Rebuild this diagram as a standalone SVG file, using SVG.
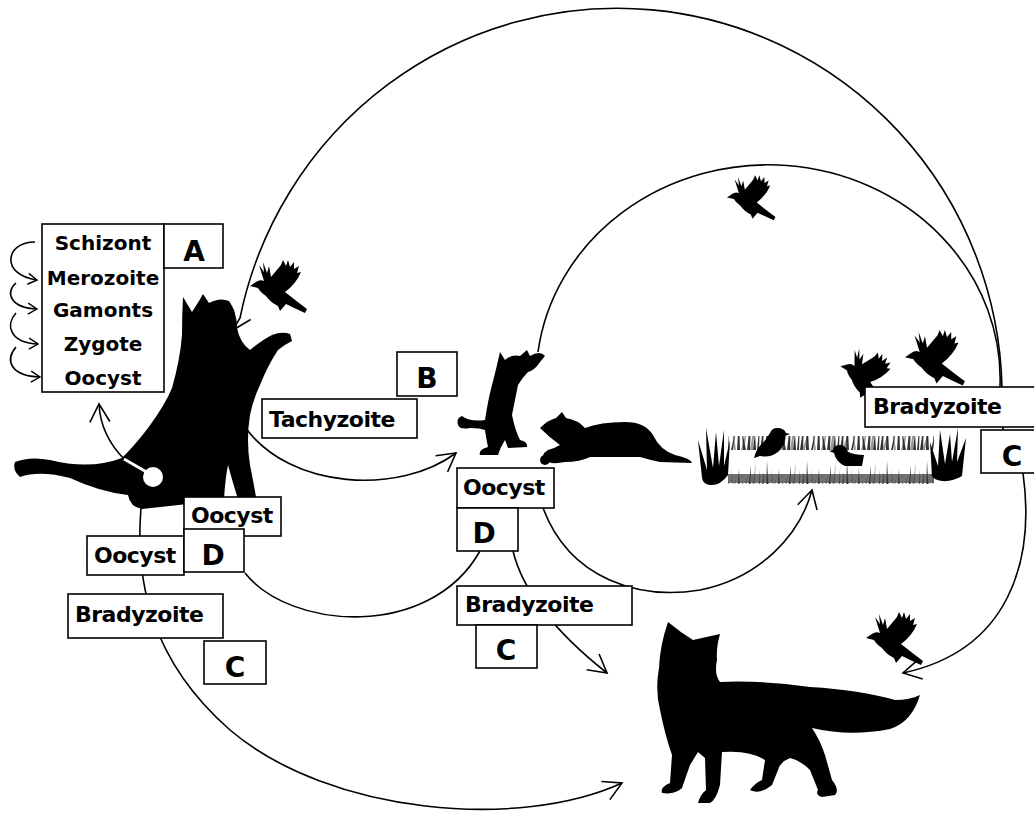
<svg xmlns="http://www.w3.org/2000/svg" width="1034" height="818" viewBox="0 0 1034 818">
  <defs>
    <style>
      .line { fill: none; stroke: #000; stroke-width: 1.6; }
      .box { fill: #fff; stroke: #000; stroke-width: 1.6; }
      .lbl { font-family: "DejaVu Sans", "Liberation Sans", sans-serif; font-weight: bold; font-size: 22px; letter-spacing: -0.5px; fill: #000; }
      .lst { font-family: "DejaVu Sans", "Liberation Sans", sans-serif; font-weight: bold; font-size: 20px; fill: #000; text-anchor: middle; }
      .big { font-family: "DejaVu Sans", "Liberation Sans", sans-serif; font-weight: bold; font-size: 28px; fill: #000; text-anchor: middle; }
      .sil { fill: #000; }
    </style>
    <marker id="ah" viewBox="-20 -12 22 24" refX="0" refY="0" markerWidth="22" markerHeight="24" markerUnits="userSpaceOnUse" orient="auto">
      <path d="M-18,-10 L0,0 L-18,10" fill="none" stroke="#000" stroke-width="1.6"/>
    </marker>
    <marker id="ahs" viewBox="-12 -8 14 16" refX="0" refY="0" markerWidth="14" markerHeight="16" markerUnits="userSpaceOnUse" orient="auto">
      <path d="M-9,-5.5 L0,0 L-9,5.5" fill="none" stroke="#000" stroke-width="1.4"/>
    </marker>
    <!-- flying bird, facing left, wings raised -->
    <symbol id="flyer" overflow="visible">
      <path d="M0 24 L6 20 Q10 17 14 19 L9 3 L14 10 L13 0 L17 11 L19 4 L21 15 Q26 9 31 3 L33 -2 L36 4 L38 -2 L40 5 L44 0 L44 7 L49 4 L47 11 L51 10 Q46 22 35 30 Q45 38 57 47 L55 51 Q44 46 36 42 L30 49 L28 44 Q20 40 16 34 Q10 30 8 26 Z" fill="#000"/>
    </symbol>
    <pattern id="grass" width="40" height="50" patternUnits="userSpaceOnUse">
      <path d="M2 50 L10 28 L5 50 Z M14 50 L11 18 L16 50 Z M21 50 L28 24 L24 50 Z M30 50 L36 12 L33 50 Z" fill="#999"/>
      <path d="M0 50 L4 22 L3 50 Z M6 50 L7 10 L9 50 Z M11 50 L16 28 L13 50 Z M17 50 L19 18 L20 50 Z M23 50 L22 30 L26 50 Z M27 50 L31 15 L30 50 Z M33 50 L35 32 L36 50 Z M37 50 L40 20 L39 50 Z" fill="#333"/>
    </pattern>
  </defs>

  <rect x="0" y="0" width="1034" height="818" fill="#fff"/>

  <!-- connectors -->
  <g id="connectors">
    <!-- stage cycle inside the definitive host -->
    <path class="line" marker-end="url(#ahs)" d="M35 242 C5 242 0 275 37 280"/>
    <path class="line" marker-end="url(#ahs)" d="M16 283 C5 292 10 308 37 309"/>
    <path class="line" marker-end="url(#ahs)" d="M16 313 C5 325 10 343 38 344"/>
    <path class="line" marker-end="url(#ahs)" d="M16 347 C5 360 10 376 40 377"/>
    <!-- gut to stage list -->
    <path class="line" marker-end="url(#ah)" d="M125 460 C110 445 100 425 99 404"/>
    <!-- outer arc: birds back to the adult cat -->
    <path class="line" marker-end="url(#ah)" d="M1003 431 L1002 388 A385 388 0 0 0 240 318 L233 330"/>
    <!-- inner arc: birds back to the kitten -->
    <path class="line" d="M1003 431 L1000 387 A232 214 0 0 0 538 352"/>
    <!-- tachyzoite to kittens -->
    <path class="line" marker-end="url(#ah)" d="M245 427 C290 490 400 495 456 453"/>
    <!-- cat faeces to fox -->
    <path class="line" marker-end="url(#ah)" d="M141 508 C135 580 150 660 230 730 C330 815 520 830 622 783"/>
    <!-- oocyst link between the cats -->
    <path class="line" d="M245 573 C290 630 430 640 480 551"/>
    <!-- kitten oocyst to fox -->
    <path class="line" marker-end="url(#ah)" d="M513 551 C520 580 540 620 607 673"/>
    <!-- kitten oocyst to ground birds -->
    <path class="line" marker-end="url(#ah)" d="M543 508 C570 580 640 600 700 590 C760 578 800 535 812 490"/>
    <!-- birds to the fox's prey -->
    <path class="line" marker-end="url(#ah)" d="M1023 473 C1035 560 1010 650 903 673"/>
  </g>

  <!-- adult cat reaching for a bird -->
  <g id="cat">
    <path class="sil" d="M183 297 L192 312 L199 301 L203 294 L209 303 Q220 297 229 301 Q237 312 237 328 Q240 343 250 350 Q262 340 272 335 Q282 331 290 334 L292 341 Q284 345 278 350 Q268 365 260 385 Q253 400 250 415 Q246 440 250 465 Q254 485 256 497 L238 499 Q232 480 228 465 Q225 480 224 500 L142 509 Q130 507 128 495 Q100 492 70 478 Q40 470 20 477 Q12 470 15 462 Q30 456 50 460 Q90 470 122 458 Q135 445 148 428 Q165 405 172 388 Q180 360 182 335 Q182 315 183 297 Z"/>
    <circle cx="153" cy="477" r="10" fill="#fff"/>
    <line x1="150" y1="474" x2="124" y2="459" stroke="#fff" stroke-width="3"/>
  </g>

  <!-- kittens -->
  <g id="kitten-standing">
    <path class="sil" d="M500 352 L505 360 Q512 354 520 356 L527 350 L530 356 Q540 350 545 356 L540 362 Q535 370 528 372 Q522 378 518 385 Q515 400 512 415 Q515 430 520 440 Q528 442 527 447 L508 448 L505 440 Q500 448 498 455 L480 455 Q478 450 488 447 Q486 438 485 430 Q480 428 470 428 Q460 430 458 425 Q456 418 462 416 Q470 422 485 420 Q488 400 492 385 Q496 370 500 352 Z"/>
  </g>
  <g id="kitten-lying">
    <path class="sil" d="M540 428 Q548 420 556 418 L562 412 L566 418 Q578 420 585 428 Q600 422 625 422 Q645 422 653 435 Q660 450 675 455 Q690 458 692 463 L660 462 Q650 460 640 457 L590 457 Q580 462 565 462 Q550 465 545 460 Q540 455 548 450 Q555 448 560 445 Q550 438 540 428 Z"/>
    <circle cx="545" cy="460" r="5" fill="#000"/>
  </g>

  <!-- grass with ground birds -->
  <g id="grass-strip">
    <rect x="728" y="436" width="206" height="48" fill="url(#grass)"/>
    <rect x="728" y="474" width="206" height="9" fill="#333" opacity="0.7"/>
    <path class="sil" d="M702 478 L698 440 L707 470 L706 428 L713 468 L716 432 L719 466 L724 430 L724 466 L730 440 L728 475 Q720 486 710 485 Q703 484 702 478 Z"/>
    <path class="sil" d="M932 476 L930 442 L938 466 L940 430 L945 464 L950 434 L952 462 L958 428 L957 462 L966 438 L962 476 Q952 482 942 481 Q934 480 932 476 Z"/>
    <path class="sil" d="M777 428 Q784 428 786 433 L790 434 L785 436 Q786 445 778 452 Q770 458 760 456 L754 458 Q756 450 760 446 Q766 440 770 433 Q772 428 777 428 Z"/>
    <path class="sil" d="M840 445 Q834 445 833 450 L829 451 L834 453 Q836 462 845 466 L862 466 L864 455 Q855 455 848 452 Q846 445 840 445 Z"/>
  </g>

  <!-- flying birds -->
  <g id="birds">
    <use href="#flyer" transform="translate(250,262)"/>
    <use href="#flyer" transform="translate(727,177) scale(0.85)"/>
    <use href="#flyer" transform="translate(905,332) scale(1.05)"/>
    <use href="#flyer" transform="translate(838,352) rotate(18 28 26) scale(0.95)"/>
    <use href="#flyer" transform="translate(866,614)"/>
  </g>

  <!-- fox -->
  <g id="fox">
    <path class="sil" d="M668 622 Q680 632 693 640 L720 634 Q716 648 717 660 Q714 675 720 682 Q760 680 810 687 Q860 690 895 700 Q910 700 920 695 Q912 722 890 729 Q850 737 812 728 Q820 740 825 755 L832 780 Q840 790 835 795 L822 797 Q815 795 818 790 L810 770 Q800 760 790 758 Q780 762 778 770 L772 785 Q760 795 750 790 Q755 783 762 780 L765 760 Q750 750 722 752 L720 785 Q716 800 710 803 L698 803 Q700 795 706 790 L705 758 L698 752 L690 765 L682 788 Q675 795 662 793 Q660 787 670 783 L672 755 Q665 735 660 710 Q655 690 659 668 Q660 645 668 622 Z"/>
  </g>

  <!-- labels -->
  <g id="stages">
    <rect class="box" x="42" y="224" width="122" height="168"/>
    <text class="lst" x="103" y="250">Schizont</text>
    <text class="lst" x="103" y="285">Merozoite</text>
    <text class="lst" x="103" y="317">Gamonts</text>
    <text class="lst" x="103" y="351">Zygote</text>
    <text class="lst" x="103" y="385">Oocyst</text>
  </g>
  <g id="label-A">
    <rect class="box" x="164" y="224" width="59" height="44"/>
    <text class="big" x="194" y="261">A</text>
  </g>
  <g id="label-tachyzoite">
    <rect class="box" x="262" y="399" width="155" height="39"/>
    <text class="lbl" x="269" y="427">Tachyzoite</text>
  </g>
  <g id="label-B">
    <rect class="box" x="397" y="352" width="60" height="44"/>
    <text class="big" x="427" y="388">B</text>
  </g>
  <g id="label-oocyst-cat">
    <rect class="box" x="184" y="497" width="97" height="39"/>
    <text class="lbl" x="191" y="523">Oocyst</text>
  </g>
  <g id="label-oocyst-left">
    <rect class="box" x="87" y="536" width="97" height="39"/>
    <text class="lbl" x="94" y="563">Oocyst</text>
  </g>
  <g id="label-D-left">
    <rect class="box" x="184" y="529" width="60" height="43"/>
    <text class="big" x="213" y="565">D</text>
  </g>
  <g id="label-bradyzoite-left">
    <rect class="box" x="68" y="594" width="155" height="44"/>
    <text class="lbl" x="75" y="622">Bradyzoite</text>
  </g>
  <g id="label-C-left">
    <rect class="box" x="204" y="641" width="62" height="43"/>
    <text class="big" x="235" y="677">C</text>
  </g>
  <g id="label-oocyst-mid">
    <rect class="box" x="457" y="468" width="97" height="40"/>
    <text class="lbl" x="463" y="495">Oocyst</text>
  </g>
  <g id="label-D-mid">
    <rect class="box" x="457" y="508" width="61" height="43"/>
    <text class="big" x="484" y="543">D</text>
  </g>
  <g id="label-bradyzoite-mid">
    <rect class="box" x="457" y="586" width="175" height="39"/>
    <text class="lbl" x="465" y="612">Bradyzoite</text>
  </g>
  <g id="label-C-mid">
    <rect class="box" x="476" y="625" width="61" height="43"/>
    <text class="big" x="506" y="660">C</text>
  </g>
  <g id="label-bradyzoite-right">
    <rect class="box" x="865" y="387" width="180" height="40"/>
    <text class="lbl" x="873" y="414">Bradyzoite</text>
  </g>
  <g id="label-C-right">
    <rect class="box" x="981" y="430" width="60" height="43"/>
    <text class="big" x="1012" y="466">C</text>
  </g>
</svg>
